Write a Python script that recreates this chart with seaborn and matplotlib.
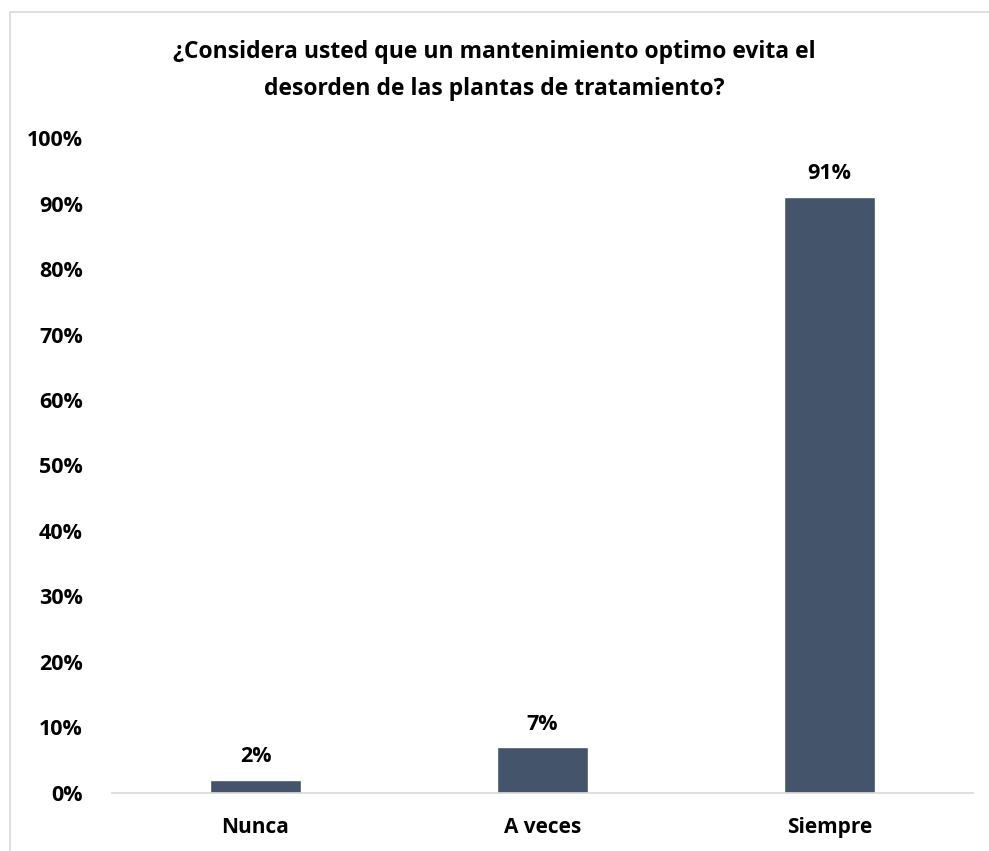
import matplotlib
matplotlib.use("Agg")
import matplotlib.pyplot as plt
from matplotlib.patches import Rectangle
import seaborn as sns
import pandas as pd

categories = ["Nunca", "A veces", "Siempre"]
shares = [0.02, 0.07, 0.91]
value_labels = ["2%", "7%", "91%"]
tick_values = [i / 10 for i in range(11)]
tick_labels = [f"{i * 10}%" for i in range(11)]
title = "¿Considera usted que un mantenimiento optimo evita el\ndesorden de las plantas de tratamiento?"

sns.set_theme(style="white")
plt.rcParams["font.family"] = ["Open Sans", "DejaVu Sans"]

df = pd.DataFrame({"categoria": categories, "porcentaje": shares})

fig = plt.figure(figsize=(9.89, 8.51), dpi=100)
ax = fig.add_axes([0.1132, 0.0682, 0.8706, 0.7696])

sns.barplot(data=df, x="categoria", y="porcentaje", color="#44546A",
            saturation=1, width=0.317, ax=ax)

for patch, lab in zip(ax.patches, value_labels):
    ax.annotate(lab, (patch.get_x() + patch.get_width() / 2, patch.get_height()),
                xytext=(0, 9), textcoords="offset points", ha="center",
                va="bottom", fontsize=15.5, fontweight="bold", color="#000000")

ax.set_ylim(0, 1.0)
ax.set_yticks(tick_values)
ax.set_yticklabels(tick_labels, fontsize=15.5, fontweight="bold", color="#000000")
for lab in ax.get_xticklabels():
    lab.set_fontsize(15)
    lab.set_fontweight("bold")
    lab.set_color("#000000")
ax.tick_params(axis="y", length=0, pad=21)
ax.tick_params(axis="x", length=0, pad=17)
ax.set_xlabel("")
ax.set_ylabel("")
for side in ["top", "right", "left"]:
    ax.spines[side].set_visible(False)
ax.spines["bottom"].set_color("#D9D9D9")
ax.spines["bottom"].set_linewidth(1.2)

fig.text(0.5, 0.917, title, ha="center", va="center", fontsize=16.5,
         fontweight="bold", color="#000000", linespacing=1.72)

# light chart-area border
fig.patches.append(Rectangle((10 / 989, -0.05), 1.0, 1 - 12 / 851 + 0.05,
                             transform=fig.transFigure, fill=False,
                             edgecolor="#D9D9D9", linewidth=1.2))

fig.savefig("out.png", dpi=100, facecolor="white")
